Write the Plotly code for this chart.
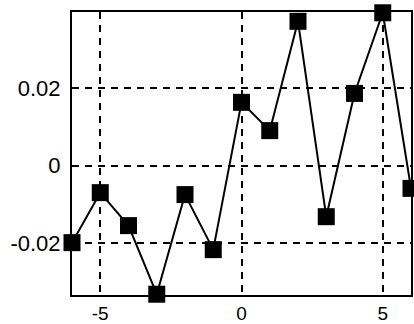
import plotly.graph_objects as go

# values
lags = [-6, -5, -4, -3, -2, -1, 0, 1, 2, 3, 4, 5, 6]
values = [-0.0199, -0.0070, -0.0155, -0.0332, -0.0075, -0.0217, 0.0163,
          0.0090, 0.0372, -0.0132, 0.0186, 0.0394, -0.0059]

x_ticks = [-5, 0, 5]
x_labels = ['-5', '0', '5']
y_ticks = [-0.02, 0, 0.02]
y_labels = ['-0.02', '0', '0.02']

fig = go.Figure(go.Scatter(
    x=lags,
    y=values,
    mode='lines+markers',
    line=dict(color='black', width=2),
    marker=dict(symbol='square', size=17, color='black'),
    cliponaxis=False,
))

fig.update_layout(
    width=414, height=324,
    margin=dict(l=72, r=3, t=12, b=29),
    paper_bgcolor='white',
    plot_bgcolor='white',
    showlegend=False,
    font=dict(family='Liberation Sans, Arial', color='black'),
)
fig.update_xaxes(
    range=[-6, 6],
    tickvals=x_ticks, ticktext=x_labels,
    tickfont=dict(size=19),
    showgrid=True, gridcolor='black', griddash='7px,6px', gridwidth=2,
    showline=True, linecolor='black', linewidth=2, mirror=True,
    zeroline=False, ticks='', ticklabelstandoff=0, automargin=False,
)
fig.update_yaxes(
    range=[-0.0334, 0.0396],
    tickvals=y_ticks, ticktext=y_labels,
    tickfont=dict(size=22),
    showgrid=True, gridcolor='black', griddash='7px,6px', gridwidth=2,
    showline=True, linecolor='black', linewidth=2, mirror=True,
    zeroline=False, ticks='', ticklabelstandoff=5, automargin=False,
)

# page body has a default 8px margin; drop it so the figure sits at the corner
fig.write_html("out.html", config={'displayModeBar': False},
               post_script="document.body.style.margin='0px';")
